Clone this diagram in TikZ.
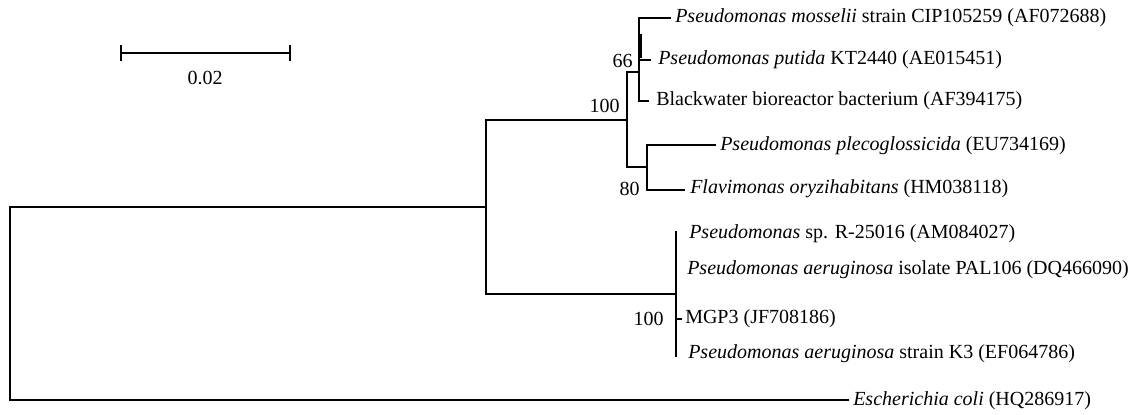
\documentclass[tikz,border=0pt]{standalone}
\usepackage{fontspec}
\setmainfont{Liberation Serif}
\begin{document}
\begin{tikzpicture}[x=0.75pt,y=-0.75pt,
  br/.style={line width=1.5pt,line cap=rect},
  leaf/.style={anchor=west,inner sep=0pt,font=\fontsize{15}{18}\selectfont},
  boot/.style={anchor=east,inner sep=0pt,font=\fontsize{15}{18}\selectfont}]
\useasboundingbox (0,0) rectangle (1142,414);
% scale bar
\coordinate (sbL) at (121,53);
\coordinate (sbR) at (290,53);
\draw[line width=1.5pt] (sbL) -- (sbR);
\draw[line width=1.5pt] ([yshift=6pt]sbL) -- ([yshift=-6pt]sbL);
\draw[line width=1.5pt] ([yshift=6pt]sbR) -- ([yshift=-6pt]sbR);
\node[inner sep=0pt,font=\fontsize{15}{18}\selectfont] (sbt) at (205,78) {0.02};
% internal nodes
\coordinate (r1) at (10,207);
\coordinate (r2) at (10,400);
\coordinate (a) at (486,207);
\coordinate (a1) at (486,120);
\coordinate (a2) at (486,294);
\coordinate (b) at (627,120);
\coordinate (b1) at (627,72);
\coordinate (b2) at (627,167);
\coordinate (c) at (639,72);
\coordinate (c1) at (639,18);
\coordinate (c2) at (639,101);
\coordinate (d) at (647,167);
\coordinate (d1) at (647,145);
\coordinate (d2) at (647,190);
\coordinate (e) at (676,294);
\coordinate (e1) at (676,232);
\coordinate (e2) at (676,356);
% leaves
\node[leaf] (t1) at (675,18) {\textit{Pseudomonas mosselii} strain CIP105259 (AF072688)};
\node[leaf] (t2) at (658,60) {\textit{Pseudomonas putida} KT2440 (AE015451)};
\node[leaf] (t3) at (656,101) {Blackwater bioreactor bacterium (AF394175)};
\node[leaf] (t4) at (720,146) {\textit{Pseudomonas plecoglossicida} (EU734169)};
\node[leaf] (t5) at (690,189) {\textit{Flavimonas oryzihabitans} (HM038118)};
\node[leaf] (t6) at (689,234) {\textit{Pseudomonas} sp. R-25016 (AM084027)};
\node[leaf] (t7) at (687,270) {\textit{Pseudomonas aeruginosa} isolate PAL106 (DQ466090)};
\node[leaf] (t8) at (685,319) {MGP3 (JF708186)};
\node[leaf] (t9) at (688,354) {\textit{Pseudomonas aeruginosa} strain K3 (EF064786)};
\node[leaf] (t10) at (853,401) {\textit{Escherichia coli} (HQ286917)};
% bootstrap values
\node[boot] (bs1) at (633,61) {66};
\node[boot] (bs2) at (620,106) {100};
\node[boot] (bs3) at (640,189) {80};
\node[boot] (bs4) at (664,319) {100};
% branches
\draw[br] (r1) -- (r2);
\draw[br] (r1) -- (a);
\draw[br] (r2) -- (848,400);
\draw[br] (a1) -- (a2);
\draw[br] (a1) -- (b);
\draw[br] (a2) -- (e);
\draw[br] (b1) -- (b2);
\draw[br] (b1) -- (c);
\draw[br] (b2) -- (d);
\draw[br] (c1) -- (c2);
\draw[br] (c1) -- (670,18);
\draw[br] (c |- t2.west) -- (650,60);
\draw[br] (c2) -- (648,101);
\draw[line width=1.5pt] (640.5,34) -- (640.5,58);
\draw[br] (d1) -- (d2);
\draw[br] (d1) -- (715,145);
\draw[br] (d2) -- (684,190);
\draw[br] (e1) -- (e2);
\draw[br] (e |- t8.west) -- (681,319);
\end{tikzpicture}
\end{document}
